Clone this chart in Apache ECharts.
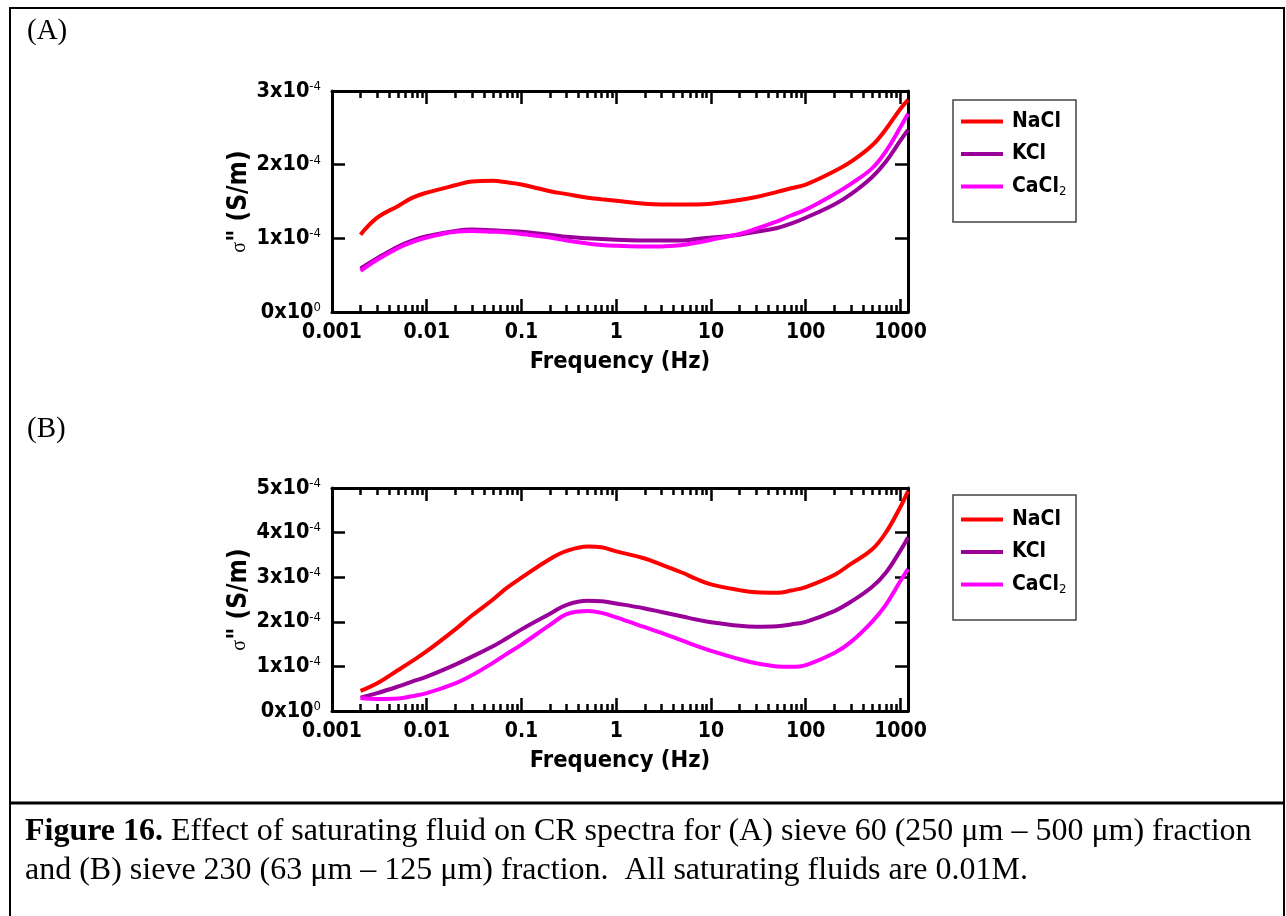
<!DOCTYPE html>
<html>
<head>
<meta charset="utf-8">
<script src="https://cdn.jsdelivr.net/npm/echarts@6/dist/echarts.min.js"></script>
<style>
  html, body { margin: 0; padding: 0; background: #fff; }
  #chart { width: 1286px; height: 916px; }
</style>
</head>
<body>
<div id="chart"></div>
<script>
// frequencies (Hz), shared by both panels
var freq = [0.002, 0.003, 0.005, 0.007, 0.01, 0.02, 0.03, 0.05, 0.07, 0.1, 0.2, 0.3, 0.5, 0.7, 1,
            2, 3, 5, 7, 10, 20, 30, 50, 70, 100, 200, 300, 500, 700, 1000, 1200];

// panel A, sigma'' in units of 1e-4 S/m
var naclA  = [1.05, 1.28, 1.44, 1.55, 1.62, 1.72, 1.77, 1.78, 1.76, 1.73, 1.64, 1.60, 1.55, 1.53, 1.51,
              1.47, 1.46, 1.46, 1.46, 1.47, 1.52, 1.56, 1.63, 1.68, 1.73, 1.91, 2.04, 2.26, 2.48, 2.76, 2.88];
var kclA   = [0.59, 0.73, 0.89, 0.97, 1.03, 1.10, 1.12, 1.11, 1.10, 1.09, 1.05, 1.02, 1.00, 0.99, 0.98,
              0.97, 0.97, 0.97, 0.99, 1.01, 1.05, 1.09, 1.14, 1.20, 1.28, 1.46, 1.60, 1.83, 2.04, 2.33, 2.47];
var cacl2A = [0.56, 0.71, 0.87, 0.95, 1.01, 1.09, 1.10, 1.09, 1.08, 1.06, 1.01, 0.97, 0.93, 0.91, 0.90,
              0.89, 0.89, 0.91, 0.94, 0.98, 1.06, 1.13, 1.23, 1.31, 1.39, 1.60, 1.74, 1.95, 2.18, 2.51, 2.69];

// panel B, sigma'' in units of 1e-4 S/m
var naclB  = [0.45, 0.62, 0.92, 1.12, 1.34, 1.83, 2.14, 2.50, 2.76, 2.99, 3.41, 3.59, 3.69, 3.67, 3.58,
              3.42, 3.28, 3.10, 2.96, 2.84, 2.71, 2.66, 2.65, 2.70, 2.78, 3.05, 3.30, 3.62, 4.00, 4.58, 4.93];
var kclB   = [0.30, 0.40, 0.55, 0.66, 0.77, 1.04, 1.22, 1.45, 1.63, 1.83, 2.18, 2.38, 2.47, 2.46, 2.41,
              2.30, 2.22, 2.12, 2.05, 1.99, 1.91, 1.89, 1.90, 1.94, 2.00, 2.24, 2.45, 2.78, 3.10, 3.60, 3.89];
var cacl2B = [0.29, 0.27, 0.28, 0.33, 0.40, 0.62, 0.80, 1.08, 1.28, 1.49, 1.93, 2.17, 2.24, 2.20, 2.10,
              1.88, 1.75, 1.58, 1.46, 1.35, 1.16, 1.07, 1.00, 0.99, 1.03, 1.30, 1.55, 2.00, 2.38, 2.92, 3.18];

var fluids = ['NaCl', 'KCl', 'CaCl2'];
var colors = ['#ff0000', '#990099', '#ff00ff'];

var xMajor = [0.001, 0.01, 0.1, 1, 10, 100, 1000];
var xMinor = [];
xMajor.forEach(function (d) {
  for (var k = 2; k <= 9; k++) xMinor.push(+(d * k).toPrecision(3));
});
var yMaxA = 3, yMaxB = 5;

var font = '"DejaVu Sans Condensed", "DejaVu Sans", sans-serif';
var grids = [
  { left: 332, top: 91, width: 576, height: 221 },
  { left: 332, top: 488, width: 576, height: 223 }
];

function pairs(ys) {
  return freq.map(function (f, i) { return [f, ys[i]]; });
}

var xAxes = [], yAxes = [];
grids.forEach(function (g, gi) {
  var base = { type: 'log', logBase: 10, min: 0.001, max: 1200, gridIndex: gi, splitLine: { show: false } };
  // bottom, with labels
  xAxes.push(Object.assign({}, base, {
    position: 'bottom',
    name: 'Frequency (Hz)', nameLocation: 'middle', nameGap: 38,
    nameTextStyle: { fontFamily: font, fontWeight: 'bold', fontSize: 23.5, color: '#000' },
    axisLine: { lineStyle: { color: '#000', width: 3 } },
    axisTick: { inside: true, length: 13, lineStyle: { color: '#000', width: 2.5 }, customValues: xMajor },
    axisLabel: { customValues: xMajor, margin: 10, fontFamily: font, fontWeight: 'bold', fontSize: 21, color: '#000',
      formatter: function (v) { return String(+v.toPrecision(3)); } }
  }));
  xAxes.push(Object.assign({}, base, {
    position: 'bottom',
    axisLine: { show: false }, axisLabel: { show: false },
    axisTick: { inside: true, length: 7, lineStyle: { color: '#000', width: 2.5 }, customValues: xMinor }
  }));
  xAxes.push(Object.assign({}, base, {
    position: 'top',
    axisLine: { lineStyle: { color: '#000', width: 3 } }, axisLabel: { show: false },
    axisTick: { inside: true, length: 13, lineStyle: { color: '#000', width: 2.5 }, customValues: xMajor }
  }));
  xAxes.push(Object.assign({}, base, {
    position: 'top',
    axisLine: { show: false }, axisLabel: { show: false },
    axisTick: { inside: true, length: 7, lineStyle: { color: '#000', width: 2.5 }, customValues: xMinor }
  }));

  var yMax = gi === 0 ? yMaxA : yMaxB;
  yAxes.push({
    type: 'value', gridIndex: gi, min: 0, max: yMax, interval: 1, position: 'left',
    splitLine: { show: false },
    name: '{g|σ}{m|" (S/m)}', nameLocation: 'middle', nameGap: 79,
    nameTextStyle: { rich: {
      g: { fontFamily: 'Liberation Serif, serif', fontSize: 20, color: '#000' },
      m: { fontFamily: font, fontWeight: 'bold', fontSize: 26, color: '#000' }
    } },
    axisLine: { lineStyle: { color: '#000', width: 3 } },
    axisTick: { inside: true, length: 13, lineStyle: { color: '#000', width: 2.5 } },
    axisLabel: {
      margin: 11,
      formatter: function (v) { return v === 0 ? '{m|0x10}{s|0}' : '{m|' + v + 'x10}{s|-4}'; },
      rich: {
        m: { fontFamily: font, fontWeight: 'bold', fontSize: 21.5, color: '#000', lineHeight: 22 },
        s: { fontFamily: font, fontSize: 13, color: '#000', lineHeight: 14, verticalAlign: 'top' }
      }
    }
  });
  yAxes.push({
    type: 'value', gridIndex: gi, min: 0, max: yMax, interval: 1, position: 'right',
    splitLine: { show: false }, axisLabel: { show: false },
    axisLine: { lineStyle: { color: '#000', width: 3 } },
    axisTick: { inside: true, length: 13, lineStyle: { color: '#000', width: 2.5 } }
  });
});

var panelData = [[naclA, kclA, cacl2A], [naclB, kclB, cacl2B]];
var series = [];
panelData.forEach(function (set, gi) {
  set.forEach(function (ys, i) {
    series.push({
      name: fluids[i], type: 'line', xAxisIndex: gi * 4, yAxisIndex: gi * 2,
      data: pairs(ys), smooth: 0.4, showSymbol: false, silent: true,
      lineStyle: { color: colors[i], width: 4 }, itemStyle: { color: colors[i] }
    });
  });
});

function legendAt(top) {
  return {
    orient: 'vertical', left: 961, top: top, padding: 0,
    itemWidth: 42, itemHeight: 4, itemGap: 11.5, icon: 'rect',
    data: fluids,
    formatter: function (n) { return n === 'CaCl2' ? '{m|CaCl}{s|2}' : '{m|' + n + '}'; },
    textStyle: {
      padding: [0, 0, 0, 4],
      rich: {
        m: { fontFamily: font, fontWeight: 'bold', fontSize: 21, color: '#000', lineHeight: 24 },
        s: { fontFamily: font, fontSize: 13, color: '#000', lineHeight: 10, verticalAlign: 'bottom' }
      }
    }
  };
}

var serif = '"Liberation Serif", "Times New Roman", serif';
var chart = echarts.init(document.getElementById('chart'));
chart.setOption({
  animation: false,
  backgroundColor: '#fff',
  grid: grids,
  xAxis: xAxes,
  yAxis: yAxes,
  legend: [legendAt(111), legendAt(509)],
  series: series,
  graphic: [
    { type: 'rect', shape: { x: 10, y: 8, width: 1274, height: 1000 }, style: { fill: 'none', stroke: '#000', lineWidth: 2 }, silent: true },
    { type: 'line', shape: { x1: 10, y1: 803, x2: 1284, y2: 803 }, style: { stroke: '#000', lineWidth: 3 }, silent: true },
    { type: 'rect', shape: { x: 953, y: 100, width: 123, height: 122 }, style: { fill: 'none', stroke: '#444', lineWidth: 1.5 }, silent: true },
    { type: 'rect', shape: { x: 953, y: 495, width: 123, height: 125 }, style: { fill: 'none', stroke: '#444', lineWidth: 1.5 }, silent: true },
    { type: 'text', left: 27, top: 17, style: { text: '(A)', font: '29px ' + serif, fill: '#000' } },
    { type: 'text', left: 27, top: 415, style: { text: '(B)', font: '29px ' + serif, fill: '#000' } },
    { type: 'text', left: 25, top: 812, style: {
      text: '{b|Figure 16.} Effect of saturating fluid on CR spectra for (A) sieve 60 (250 μm – 500 μm) fraction\nand (B) sieve 230 (63 μm – 125 μm) fraction.  All saturating fluids are 0.01M.',
      font: '32px ' + serif, fill: '#000', lineHeight: 39,
      rich: { b: { font: 'bold 32px ' + serif, fill: '#000' } }
    } }
  ]
});
</script>
</body>
</html>
